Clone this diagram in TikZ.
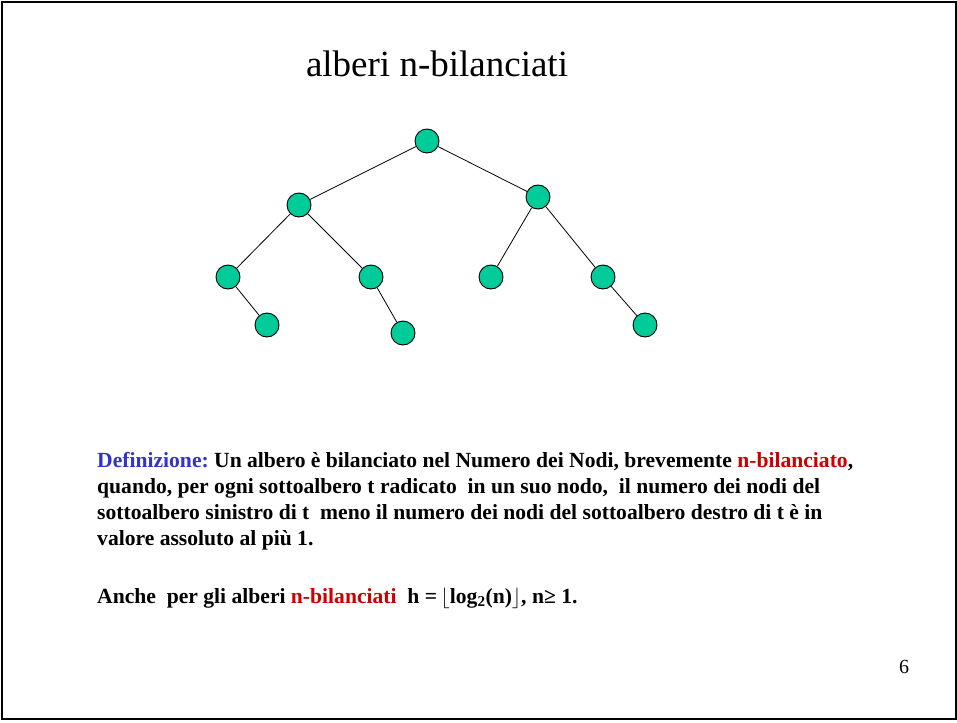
\documentclass[tikz,border=0pt]{standalone}
\usepackage{fontspec}
\setmainfont{Liberation Serif}
\frenchspacing
\definecolor{nodo}{RGB}{0,204,153}
\definecolor{defblu}{RGB}{51,51,204}
\definecolor{rosso}{RGB}{204,0,0}
\tikzset{
  vertice/.style={circle, draw=black, fill=nodo, minimum size=24pt, inner sep=0pt, line width=0.9pt},
  ramo/.style={line width=0.8pt},
  riga/.style={anchor=base west, inner sep=0pt, font=\fontsize{21.6}{26}\selectfont\bfseries}
}
\begin{document}
\begin{tikzpicture}[x=1pt,y=-1pt]
        \useasboundingbox (0,0) rectangle (957,722);
        \draw[line width=2pt] (1.5,2.5) rectangle (955.5,719); % cornice

        % titolo
        \node[anchor=base, font=\fontsize{37}{40}\selectfont] (titolo) at (437,77) {alberi n-bilanciati};

        % albero
        \node[vertice] (r) at (427,141) {};
        \node[vertice] (a) at (299,205) {};
        \node[vertice] (b) at (538,197) {};
        \node[vertice] (aa) at (228,277) {};
        \node[vertice] (ab) at (371,277) {};
        \node[vertice] (ba) at (491,277) {};
        \node[vertice] (bb) at (603,277) {};
        \node[vertice] (aab) at (267,325) {};
        \node[vertice] (abb) at (403,333) {};
        \node[vertice] (bbb) at (645,325) {};
        \draw[ramo] (r) -- (a); \draw[ramo] (r) -- (b);
        \draw[ramo] (a) -- (aa); \draw[ramo] (a) -- (ab);
        \draw[ramo] (b) -- (ba); \draw[ramo] (b) -- (bb);
        \draw[ramo] (aa) -- (aab); \draw[ramo] (ab) -- (abb); \draw[ramo] (bb) -- (bbb);

        % definizione
        \node[riga] (d1) at (97,467) {\textcolor{defblu}{Definizione:} Un albero è bilanciato nel Numero dei Nodi, brevemente \textcolor{rosso}{n-bilanciato},};
        \node[riga] (d2) at (97,493) {quando, per ogni sottoalbero t radicato\ \ in un suo nodo,\ \ il numero dei nodi del};
        \node[riga] (d3) at (97,519) {sottoalbero sinistro di t\ \ meno il numero dei nodi del sottoalbero destro di t è in};
        \node[riga] (d4) at (97,545) {valore assoluto al più 1.};
        \node[riga] (d5) at (97,603) {Anche\ \ per gli alberi \textcolor{rosso}{n-bilanciati}\ \ h =\,$\lfloor$log\textsubscript{2}(n)$\rfloor$, n≥ 1.};

        \node[anchor=base, font=\fontsize{20}{22}\selectfont] (pag) at (904,673) {6};
    \end{tikzpicture}
\end{document}
